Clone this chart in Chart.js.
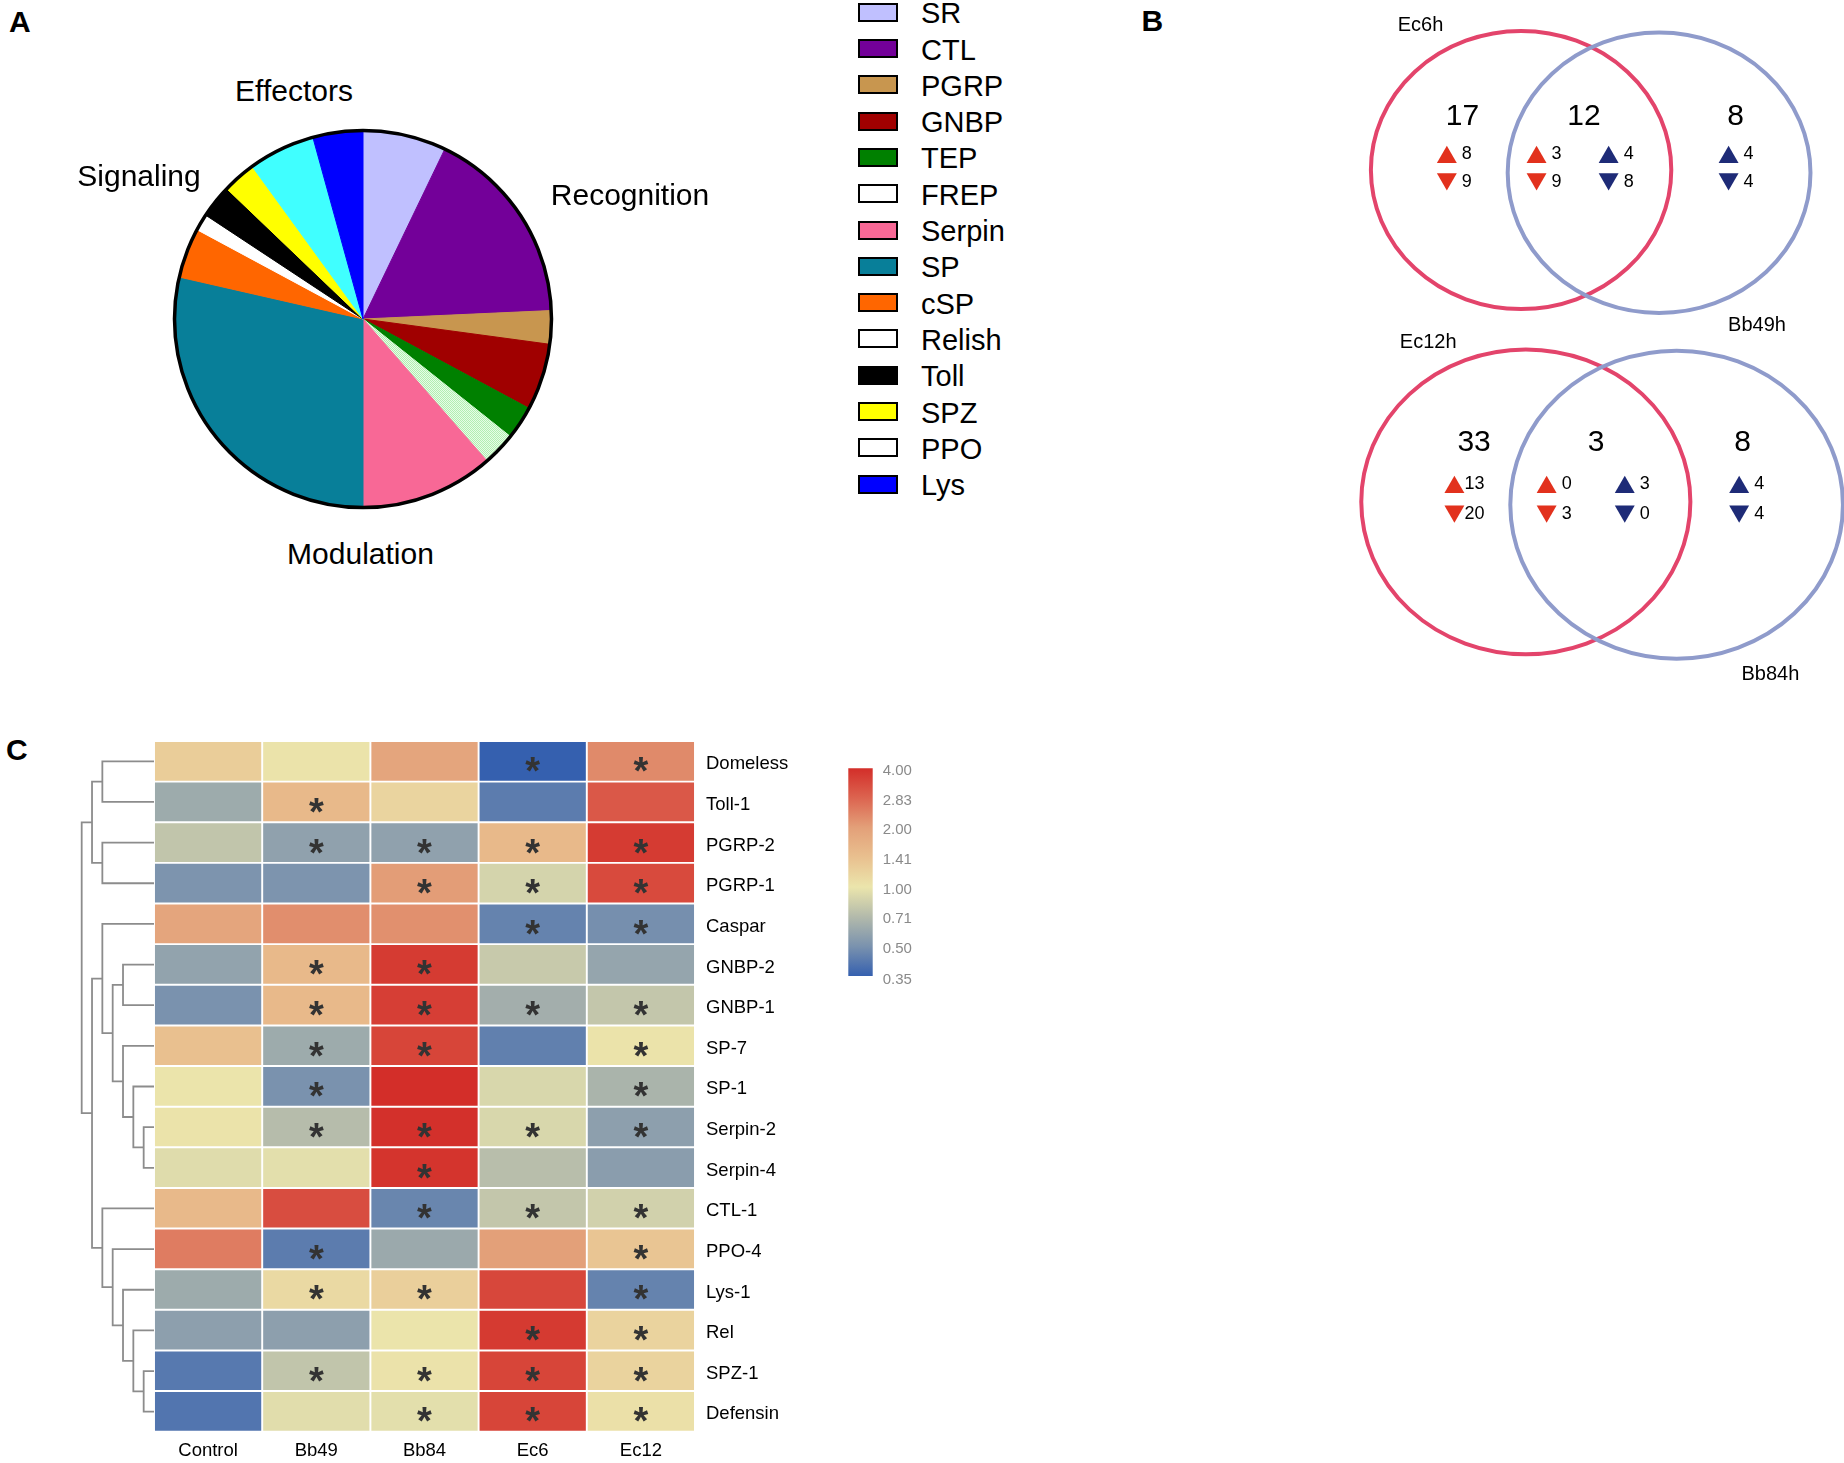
<!DOCTYPE html>
<html>
<head>
<meta charset="utf-8">
<script src="https://cdn.jsdelivr.net/npm/chart.js@4.4.1/dist/chart.umd.min.js"></script>
<style>
  body { margin: 0; background: #fff; }
  #page { position: relative; width: 1844px; height: 1463px; overflow: hidden;
          font-family: "Liberation Sans", Arial, sans-serif; color: #000; background: #fff; }
  .txt { position: absolute; white-space: nowrap; line-height: 1; }
  .panel { font-weight: bold; font-size: 30px; }
  .box { position: absolute; box-sizing: border-box; border: 2.7px solid #000; }
  canvas { position: absolute; }
</style>
</head>
<body>
<div id="page"></div>
<script>
// ---- Panel A: immune gene families ----
const families = ['SR', 'CTL', 'PGRP', 'GNBP', 'TEP', 'FREP', 'Serpin', 'SP', 'cSP', 'Relish', 'Toll', 'SPZ', 'PPO', 'Lys'];
const familyCounts = [5, 12, 2, 4, 2, 2, 8, 20, 3, 1, 2, 2, 4, 3];
const sliceColors = ['#c0c0ff', '#730099', '#c8964f', '#a00000', '#008000', 'dots', '#f86896', '#087f99',
                     '#ff6600', '#ffffff', '#000000', '#ffff00', '#40ffff', '#0000ff'];
const legendColors = ['#c0c0ff', '#730099', '#c8964f', '#a00000', '#008000', '#ffffff', '#f86896', '#087f99',
                      '#ff6600', '#ffffff', '#000000', '#ffff00', '#ffffff', '#0000ff'];
const groupNames = ['Effectors', 'Signaling', 'Recognition', 'Modulation'];

// ---- Panel B: Venn counts ----
const vennSets = [['Ec6h', 'Bb49h'], ['Ec12h', 'Bb84h']];
const vennTotals = [[17, 12, 8], [33, 3, 8]];
// regions: Ec only (red), shared Ec (red), shared Bb (blue), Bb only (blue)
const vennUp = [[8, 3, 4, 4], [13, 0, 3, 4]];
const vennDown = [[9, 9, 8, 4], [20, 3, 0, 4]];

// ---- Panel C: fold change heatmap ----
const genes = ['Domeless', 'Toll-1', 'PGRP-2', 'PGRP-1', 'Caspar', 'GNBP-2', 'GNBP-1', 'SP-7', 'SP-1',
               'Serpin-2', 'Serpin-4', 'CTL-1', 'PPO-4', 'Lys-1', 'Rel', 'SPZ-1', 'Defensin'];
const conditions = ['Control', 'Bb49', 'Bb84', 'Ec6', 'Ec12'];
const control = [1.25, 0.62, 0.77, 0.51, 1.89, 0.58, 0.50, 1.41, 1.01, 1.02, 0.93, 1.53, 2.46, 0.62, 0.56, 0.42, 0.41];
const bb49    = [1.02, 1.53, 0.57, 0.51, 2.22, 1.53, 1.53, 0.62, 0.50, 0.72, 0.95, 3.27, 0.43, 1.12, 0.56, 0.77, 0.94];
const bb84    = [1.89, 1.17, 0.57, 2.04, 2.19, 3.68, 3.61, 3.46, 4.00, 3.94, 3.86, 0.46, 0.61, 1.23, 1.01, 1.03, 0.95];
const ec6     = [0.34, 0.43, 1.53, 0.87, 0.45, 0.80, 0.64, 0.44, 0.89, 0.89, 0.73, 0.78, 2.00, 3.41, 3.71, 3.46, 3.46];
const ec12    = [2.27, 3.05, 3.68, 3.34, 0.49, 0.59, 0.78, 1.02, 0.67, 0.56, 0.55, 0.85, 1.35, 0.45, 1.18, 1.18, 1.05];
// rows (index into genes) marked with * per condition
const starsBb49 = [1, 2, 5, 6, 7, 8, 9, 12, 13, 15];
const starsBb84 = [2, 3, 5, 6, 7, 9, 10, 11, 13, 15, 16];
const starsEc6  = [0, 2, 3, 4, 6, 9, 11, 14, 15, 16];
const starsEc12 = [0, 2, 3, 4, 6, 7, 8, 9, 11, 12, 13, 14, 15, 16];
const colorTicks = [0.35, 0.50, 0.71, 1.00, 1.41, 2.00, 2.83, 4.00];

// dendrogram merges: [left, right, height]; numbers are gene rows, 'mN' is merge N
const treeMerges = [
  [0, 1, 5], [2, 3, 5], ['m0', 'm1', 6],
  [9, 10, 1], [8, 'm3', 2], [7, 'm4', 3], [5, 6, 3], ['m6', 'm5', 4], [4, 'm7', 5],
  [15, 16, 1], [14, 'm9', 2], [13, 'm10', 3], [12, 'm11', 4], [11, 'm12', 5],
  ['m8', 'm13', 6], ['m2', 'm14', 7]
];

const FONT = '"Liberation Sans", Arial, sans-serif';
Chart.defaults.font.family = FONT;
Chart.defaults.animation = false;
Chart.defaults.plugins.legend.display = false;
Chart.defaults.plugins.tooltip.enabled = false;

const page = document.getElementById('page');

function makeCanvas(left, top, w, h) {
  const c = document.createElement('canvas');
  c.width = w; c.height = h;
  c.style.left = left + 'px'; c.style.top = top + 'px';
  c.style.width = w + 'px'; c.style.height = h + 'px';
  page.appendChild(c);
  return c;
}

function addText(txt, left, top, size, cls, center) {
  const d = document.createElement('div');
  d.className = 'txt ' + (cls || '');
  d.textContent = txt;
  d.style.left = left + 'px';
  d.style.top = top + 'px';
  if (size) d.style.fontSize = size + 'px';
  if (center) d.style.transform = 'translateX(-50%)';
  page.appendChild(d);
  return d;
}

// vertical axes add half a label of padding top and bottom; we place the plot area ourselves
function noEdgePadding(s) { s.paddingTop = 0; s.paddingBottom = 0; }

// panel letters
addText('A', 9, 7, 0, 'panel');
addText('B', 1141.5, 5.5, 0, 'panel');
addText('C', 6, 734.5, 0, 'panel');

// ---------- A: pie ----------
const pieCanvas = makeCanvas(163, 119, 400, 400);
function dotPattern(ctx) {
  const c = document.createElement('canvas');
  c.width = 2; c.height = 2;
  const g = c.getContext('2d');
  g.fillStyle = '#e6fde6'; g.fillRect(0, 0, 2, 2);
  g.fillStyle = '#b2eeb2'; g.fillRect(0, 0, 1, 1); g.fillRect(1, 1, 1, 1);
  return ctx.createPattern(c, 'repeat');
}
const sliceFills = sliceColors.map(c => c === 'dots' ? dotPattern(pieCanvas.getContext('2d')) : c);

const pieRim = {
  id: 'pieRim',
  afterDatasetsDraw(chart) {
    const arc = chart.getDatasetMeta(0).data[0];
    const ctx = chart.ctx;
    ctx.save();
    ctx.beginPath();
    ctx.arc(arc.x, arc.y, arc.outerRadius, 0, Math.PI * 2);
    ctx.lineWidth = 3.5;
    ctx.strokeStyle = '#000';
    ctx.stroke();
    ctx.restore();
  }
};

new Chart(pieCanvas, {
  type: 'pie',
  data: {
    labels: families,
    datasets: [{ data: familyCounts, backgroundColor: sliceFills, borderColor: sliceFills, borderWidth: 1,
                 hoverOffset: 0, offset: 0 }]
  },
  options: { responsive: false, layout: { padding: 11 } },
  plugins: [pieRim]
});

// group labels round the pie
const groupPos = [[294, 75.8], [139, 161.4], [630, 180.1], [360.5, 539]];
groupNames.forEach((g, i) => addText(g, groupPos[i][0], groupPos[i][1], 30, '', true));

// legend
families.forEach((f, i) => {
  const b = document.createElement('div');
  b.className = 'box';
  b.style.left = '858.3px';
  b.style.top = (2.7 + 36.3 * i) + 'px';
  b.style.width = '39.4px';
  b.style.height = '19px';
  b.style.background = legendColors[i];
  page.appendChild(b);
  addText(f, 921, -0.8 + 36.3 * i, 29);
});

// ---------- B: Venn diagrams ----------
const vennCanvas = makeCanvas(1340, 0, 504, 700);
// geometry in the venn chart's data units (x 0-100, y 0-150)
const vennCircles = [
  { cx: 35.93, cy: 36.43, r: 29.8, color: '#e3446b' },
  { cx: 63.31, cy: 37.03, r: 30.04, color: '#8f9bcb' },
  { cx: 36.87, cy: 107.54, r: 32.65, color: '#e3446b' },
  { cx: 66.79, cy: 108.14, r: 33.0, color: '#8f9bcb' }
];
const vennRegionX = [[21.2, 39.0, 53.3, 77.1], [22.7, 41.0, 56.5, 79.2]];
const vennRowY = [[33.1, 39.0], [103.8, 110.2]];
const vennTotalX = [[24.3, 48.4, 78.5], [26.6, 50.8, 79.9]];
const vennTotalY = [25.1, 94.9];
const vennLabelPos = [[[15.97, 5.44], [82.74, 69.64]], [[17.5, 73.4], [85.4, 144.6]]];
const RED = '#e2311d', NAVY = '#1e2b77';

const upPts = [], downPts = [], upCol = [], downCol = [];
vennUp.forEach((row, p) => row.forEach((n, k) => {
  upPts.push({ x: vennRegionX[p][k], y: vennRowY[p][0] + 0.62, n });
  upCol.push(k < 2 ? RED : NAVY);
}));
vennDown.forEach((row, p) => row.forEach((n, k) => {
  downPts.push({ x: vennRegionX[p][k], y: vennRowY[p][1] - 0.62, n });
  downCol.push(k < 2 ? RED : NAVY);
}));

const vennDraw = {
  id: 'vennDraw',
  beforeDatasetsDraw(chart) {
    const { ctx, scales: { x, y } } = chart;
    ctx.save();
    ctx.lineWidth = 4;
    vennCircles.forEach(c => {
      const px = x.getPixelForValue(c.cx), py = y.getPixelForValue(c.cy);
      const rx = Math.abs(x.getPixelForValue(c.cx + c.r) - px);
      const ry = Math.abs(y.getPixelForValue(c.cy + c.r) - py);
      ctx.beginPath();
      ctx.ellipse(px, py, rx, ry, 0, 0, Math.PI * 2);
      ctx.strokeStyle = c.color;
      ctx.stroke();
    });
    ctx.restore();
  },
  afterDatasetsDraw(chart) {
    const { ctx, scales: { x, y } } = chart;
    ctx.save();
    ctx.fillStyle = '#000';
    ctx.textAlign = 'center';
    ctx.textBaseline = 'middle';
    ctx.font = '20px ' + FONT;
    vennSets.forEach((pair, p) => pair.forEach((name, s) => {
      const [lx, ly] = vennLabelPos[p][s];
      ctx.fillText(name, x.getPixelForValue(lx), y.getPixelForValue(ly));
    }));
    ctx.font = '30px ' + FONT;
    vennTotals.forEach((row, p) => row.forEach((n, k) => {
      ctx.fillText(String(n), x.getPixelForValue(vennTotalX[p][k]), y.getPixelForValue(vennTotalY[p]));
    }));
    ctx.font = '18px ' + FONT;
    vennUp.forEach((row, p) => row.forEach((n, k) => {
      const px = x.getPixelForValue(vennRegionX[p][k]) + 20;
      ctx.fillText(String(n), px, y.getPixelForValue(vennRowY[p][0]));
      ctx.fillText(String(vennDown[p][k]), px, y.getPixelForValue(vennRowY[p][1]));
    }));
    ctx.restore();
  }
};

new Chart(vennCanvas, {
  type: 'scatter',
  data: {
    datasets: [
      { data: upPts, pointStyle: 'triangle', pointRadius: 11.5, pointBorderWidth: 0,
        pointBackgroundColor: upCol, rotation: 0 },
      { data: downPts, pointStyle: 'triangle', pointRadius: 11.5, pointBorderWidth: 0,
        pointBackgroundColor: downCol, rotation: 180 }
    ]
  },
  options: {
    responsive: false,
    layout: { padding: 0, autoPadding: false },
    scales: {
      x: { type: 'linear', min: 0, max: 100, display: false },
      y: { type: 'linear', min: 0, max: 150, reverse: true, display: false }
    }
  },
  plugins: [vennDraw]
});

// ---------- C: heatmap ----------
const paletteStops = [[-1.5, '#3560af'], [-1, '#7a92ae'], [-0.5, '#b3baab'], [0, '#ebe5ac'],
                      [0.5, '#e9c08f'], [1, '#e3a079'], [1.5, '#dc6450'], [2, '#d32e29']];
function hexToRgb(h) { return [1, 3, 5].map(i => parseInt(h.slice(i, i + 2), 16)); }
function colorFor(fc) {
  const t = Math.log2(fc);
  const s = paletteStops;
  if (t <= s[0][0]) return s[0][1];
  for (let k = 1; k < s.length; k++) {
    if (t <= s[k][0]) {
      const f = (t - s[k - 1][0]) / (s[k][0] - s[k - 1][0]);
      const a = hexToRgb(s[k - 1][1]), b = hexToRgb(s[k][1]);
      return 'rgb(' + a.map((v, i) => Math.round(v + (b[i] - v) * f)).join(',') + ')';
    }
  }
  return s[s.length - 1][1];
}

const columns = [control, bb49, bb84, ec6, ec12];
const starCols = [[], starsBb49, starsBb84, starsEc6, starsEc12];

const heatCanvas = makeCanvas(153.8, 740.5, 700, 722);
const HEAT_W = 541, HEAT_H = 690.7;

const starPlugin = {
  id: 'stars',
  afterDatasetsDraw(chart) {
    const { ctx, scales: { x, y } } = chart;
    ctx.save();
    ctx.fillStyle = '#333';
    ctx.textAlign = 'center';
    ctx.textBaseline = 'alphabetic';
    ctx.font = 'bold 38px ' + FONT;
    starCols.forEach((rows, j) => rows.forEach(i => {
      ctx.fillText('*', x.getPixelForValue(j), y.getPixelForValue(i + 0.5) + 23);
    }));
    ctx.restore();
  }
};

new Chart(heatCanvas, {
  type: 'bar',
  data: {
    labels: conditions,
    datasets: genes.map((g, i) => ({
      label: g,
      data: conditions.map(() => 1),
      backgroundColor: columns.map(col => colorFor(col[i])),
      borderColor: '#ffffff',
      borderWidth: 1.3,
      borderSkipped: false,
      barPercentage: 1,
      categoryPercentage: 1
    }))
  },
  options: {
    responsive: false,
    layout: { padding: 0 },
    scales: {
      x: {
        stacked: true,
        grid: { display: false, drawTicks: false },
        border: { display: false },
        ticks: { color: '#000', font: { size: 18.5 }, padding: 8, maxRotation: 0 },
        afterFit: s => { s.height = 722 - HEAT_H; s.paddingLeft = 0; s.paddingRight = 0; }
      },
      y: { stacked: true, min: 0, max: 17, reverse: true, display: false },
      genes: {
        axis: 'y',
        type: 'category',
        labels: genes,
        position: 'right',
        offset: true,
        grid: { display: false, drawTicks: false },
        border: { display: false },
        ticks: { color: '#000', font: { size: 18.5 }, padding: 11, labelOffset: 3 },
        afterFit: s => { s.width = 700 - HEAT_W; noEdgePadding(s); }
      }
    }
  },
  plugins: [starPlugin]
});

// dendrogram, built from the merge list
const leafY = genes.map((g, i) => i + 0.5);
const nodes = [];
const links = [];
function nodeOf(ref) {
  if (typeof ref === 'number') return { h: 0, y: leafY[ref] };
  return nodes[parseInt(ref.slice(1), 10)];
}
treeMerges.forEach(([a, b, h]) => {
  const na = nodeOf(a), nb = nodeOf(b);
  links.push([{ x: na.h, y: na.y }, { x: h, y: na.y }, { x: h, y: nb.y }, { x: nb.h, y: nb.y }]);
  nodes.push({ h, y: (na.y + nb.y) / 2 });
});

const dendroCanvas = makeCanvas(60, 740.5, 96, 691);
new Chart(dendroCanvas, {
  type: 'line',
  data: {
    datasets: links.map(pts => ({
      data: pts, borderColor: '#8c8c8c', borderWidth: 1.8, pointRadius: 0, tension: 0, fill: false
    }))
  },
  options: {
    responsive: false,
    layout: { padding: { right: 2 }, autoPadding: false },
    scales: {
      x: { type: 'linear', min: 0, max: 9.1, reverse: true, display: false },
      y: { type: 'linear', min: 0, max: 17, reverse: true, display: false }
    }
  }
});

// colour key
const keyCanvas = makeCanvas(838, 755, 110, 235);
function keyGradient(context) {
  const chart = context.chart;
  const area = chart.chartArea;
  if (!area) return null;
  const ys = chart.scales.y;
  const g = chart.ctx.createLinearGradient(0, ys.getPixelForValue(-1.5), 0, ys.getPixelForValue(2));
  paletteStops.forEach(([t, c]) => g.addColorStop((t + 1.5) / 3.5, c));
  return g;
}
new Chart(keyCanvas, {
  type: 'bar',
  data: {
    labels: [''],
    datasets: [{ data: [[-1.5, 2]], backgroundColor: keyGradient, borderWidth: 0,
                 barPercentage: 1, categoryPercentage: 1 }]
  },
  options: {
    responsive: false,
    layout: { padding: { left: 10.3, top: 13.3, bottom: 14, right: 0 } },
    scales: {
      x: { display: false },
      y: {
        position: 'right',
        min: -1.5, max: 2,
        grid: { display: false, drawTicks: false },
        border: { display: false },
        afterBuildTicks: axis => { axis.ticks = colorTicks.map(v => ({ value: Math.log2(v) })); },
        ticks: {
          color: '#8a8a8a', font: { size: 15 }, padding: 10, labelOffset: 2.5,
          callback: (v, i) => colorTicks[i].toFixed(2)
        },
        afterFit: s => { s.width = 110 - 10.3 - 24.4; noEdgePadding(s); }
      }
    }
  }
});
</script>
</body>
</html>
